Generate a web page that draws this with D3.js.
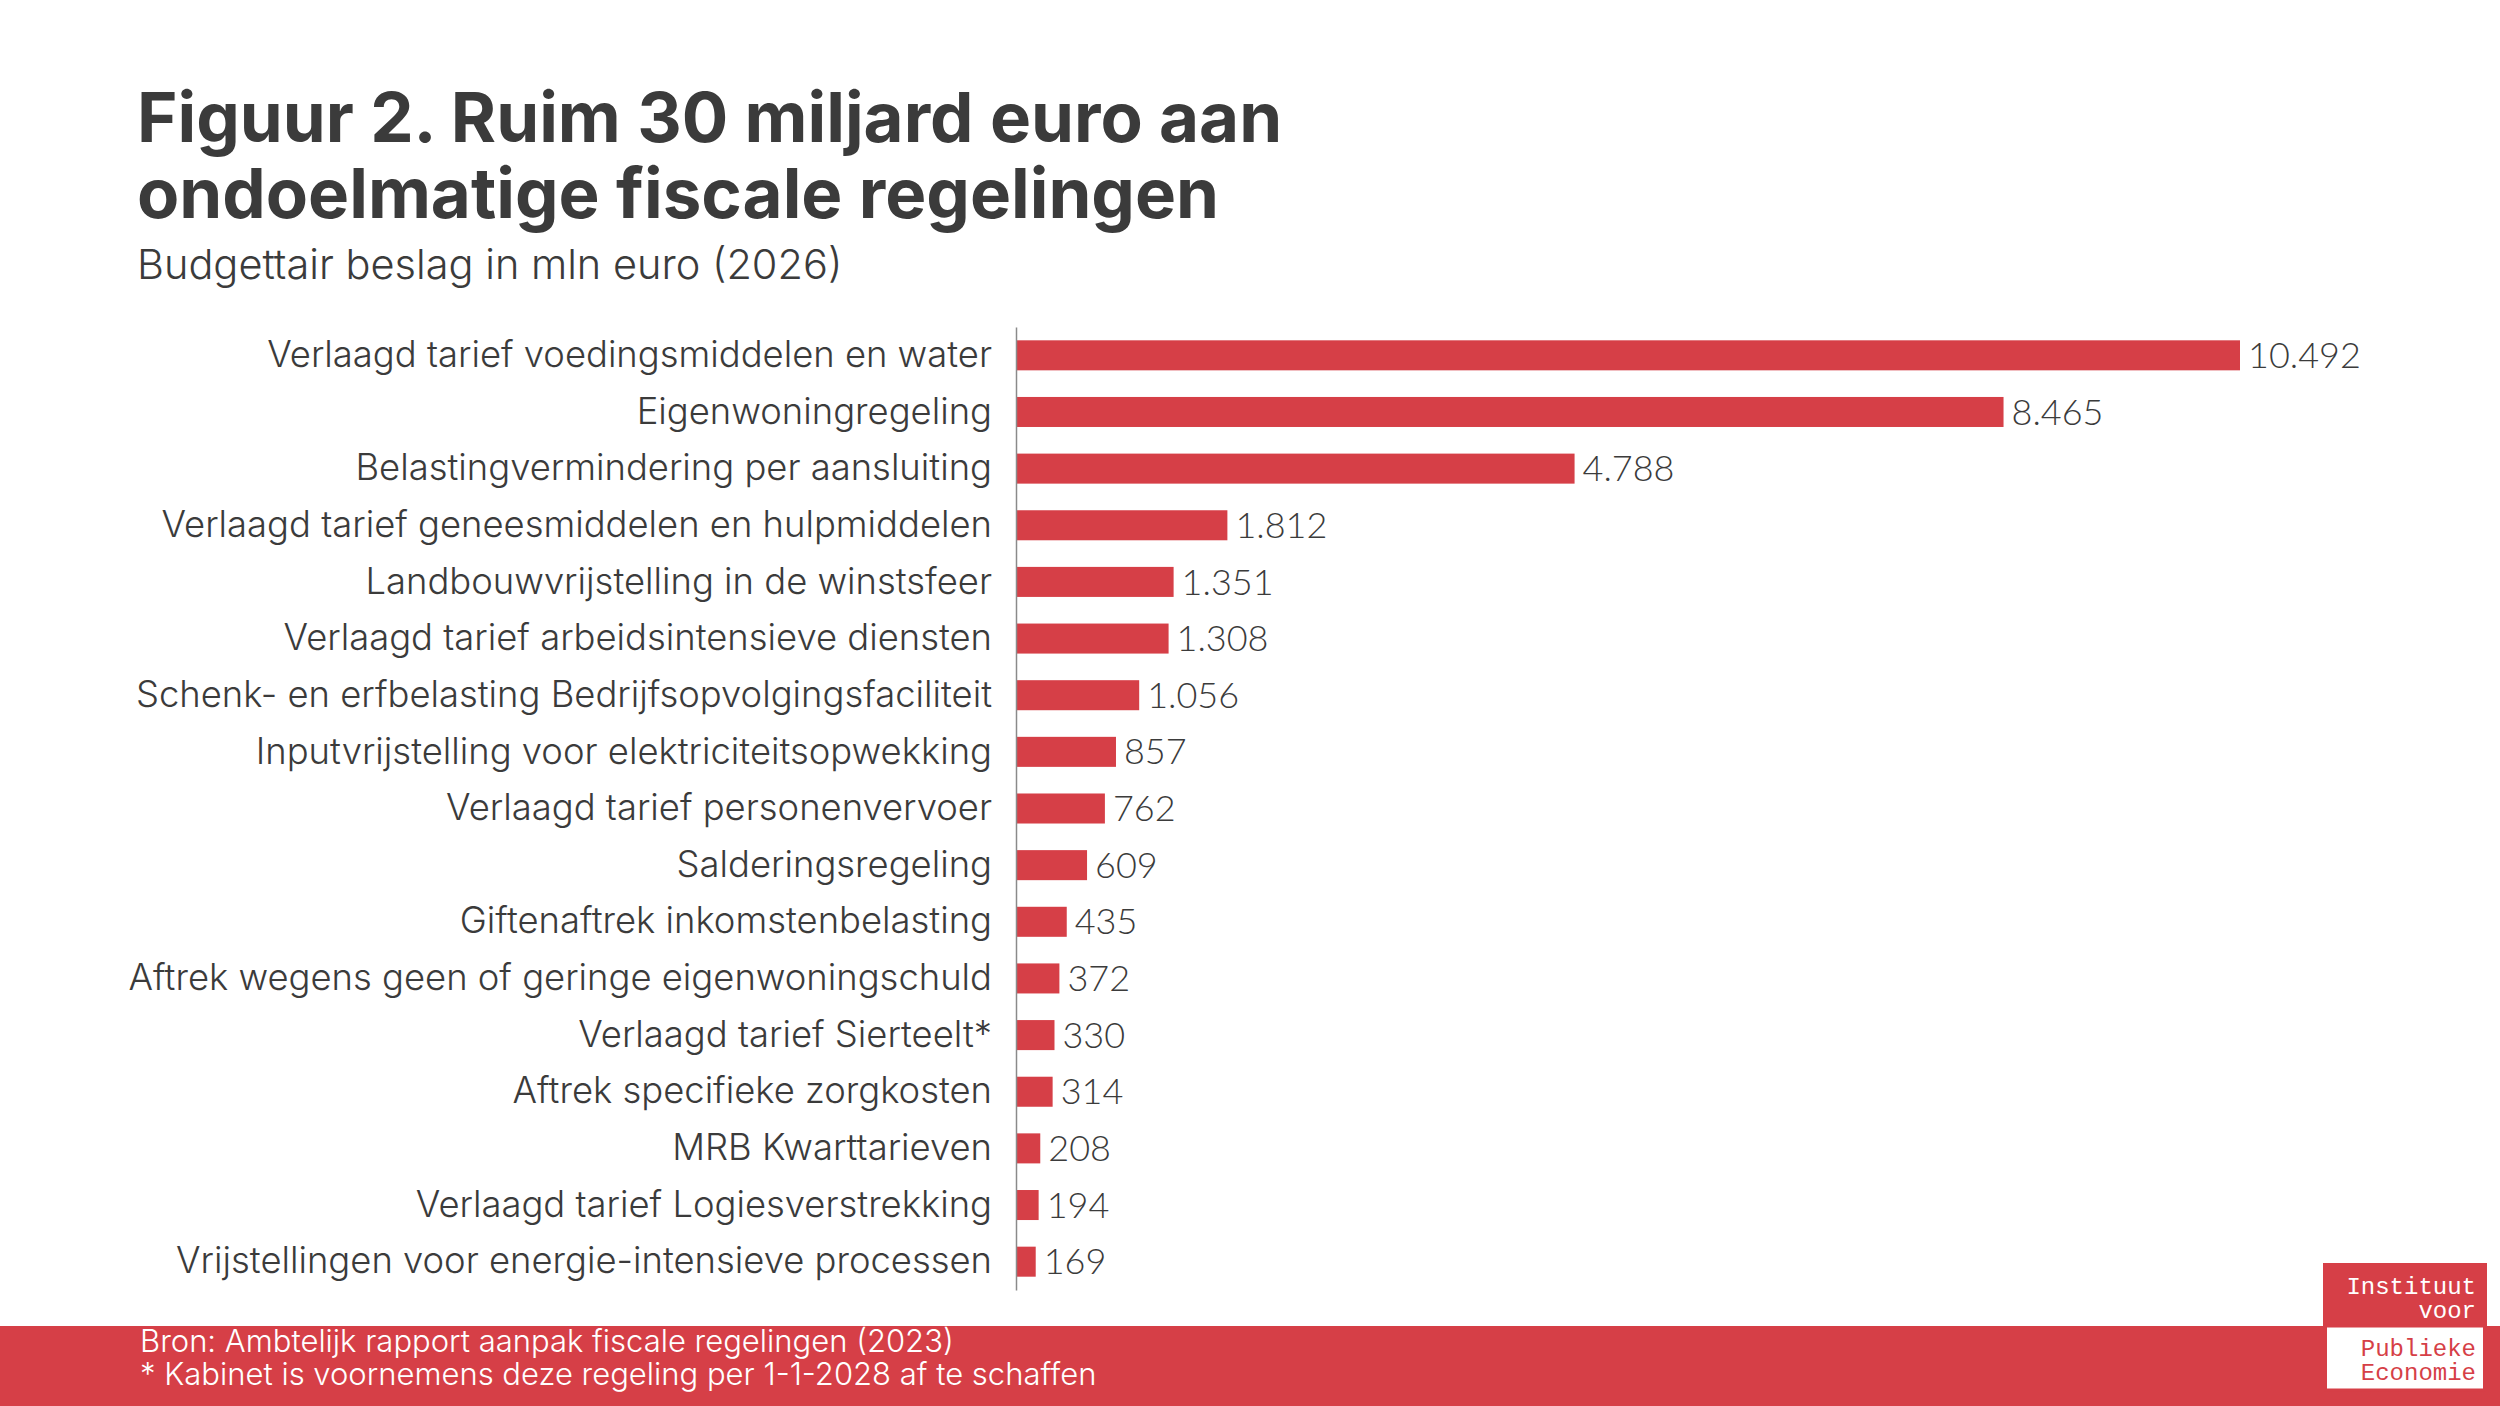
<!DOCTYPE html>
<html>
<head>
<meta charset="utf-8">
<script src="https://cdn.jsdelivr.net/npm/d3@7"></script>
<style>
  html, body { margin: 0; padding: 0; background: #fff; }
  svg { display: block; }
</style>
</head>
<body>
<svg id="chart" width="2500" height="1406"></svg>
<script>
// regelingen, van groot naar klein
var categories = [
  "Verlaagd tarief voedingsmiddelen en water",
  "Eigenwoningregeling",
  "Belastingvermindering per aansluiting",
  "Verlaagd tarief geneesmiddelen en hulpmiddelen",
  "Landbouwvrijstelling in de winstsfeer",
  "Verlaagd tarief arbeidsintensieve diensten",
  "Schenk- en erfbelasting Bedrijfsopvolgingsfaciliteit",
  "Inputvrijstelling voor elektriciteitsopwekking",
  "Verlaagd tarief personenvervoer",
  "Salderingsregeling",
  "Giftenaftrek inkomstenbelasting",
  "Aftrek wegens geen of geringe eigenwoningschuld",
  "Verlaagd tarief Sierteelt*",
  "Aftrek specifieke zorgkosten",
  "MRB Kwarttarieven",
  "Verlaagd tarief Logiesverstrekking",
  "Vrijstellingen voor energie-intensieve processen"
];
var values = [10492, 8465, 4788, 1812, 1351, 1308, 1056, 857, 762, 609, 435, 372, 330, 314, 208, 194, 169];

var titleLines = ["Figuur 2. Ruim 30 miljard euro aan", "ondoelmatige fiscale regelingen"];
var subtitle = "Budgettair beslag in mln euro (2026)";
var notes = ["Bron: Ambtelijk rapport aanpak fiscale regelingen (2023)",
             "* Kabinet is voornemens deze regeling per 1-1-2028 af te schaffen"];
var logoTop = ["Instituut", "voor"];
var logoBottom = ["Publieke", "Economie"];

var red = "#d63f47",
    ink = "#3b3b3b",
    light = "Inter, Lato, sans-serif";

var svg = d3.select("#chart");

var data = categories.map(function(c, i) { return { name: c, value: values[i] }; });

var x = d3.scaleLinear()
    .domain([0, d3.max(values)])
    .range([1016, 2240]);

var y = d3.scaleBand()
    .domain(categories)
    .range([327, 1290])
    .paddingInner(0.47)
    .paddingOuter(0.235);

// titel
svg.append("g").selectAll("text")
  .data(titleLines)
  .enter().append("text")
    .attr("x", 137)
    .attr("y", function(d, i) { return 142 + i * 76; })
    .attr("fill", ink)
    .attr("font-family", "Inter, 'Noto Sans', sans-serif")
    .attr("font-weight", 700)
    .attr("font-size", 69)
    .text(function(d) { return d; });

svg.append("text")
    .attr("x", 137)
    .attr("y", 279)
    .attr("fill", ink)
    .attr("font-family", light)
    .attr("font-weight", 300)
    .attr("font-size", 41.5)
    .text(subtitle);

// balken
svg.append("g").selectAll("rect")
  .data(data)
  .enter().append("rect")
    .attr("x", x(0))
    .attr("y", function(d) { return y(d.name); })
    .attr("width", function(d) { return x(d.value) - x(0); })
    .attr("height", y.bandwidth())
    .attr("fill", red);

// as met categorieen
var axis = svg.append("g")
    .attr("transform", "translate(" + x(0) + ",0)")
    .call(d3.axisLeft(y).tickSize(0).tickPadding(24));

axis.select(".domain")
    .attr("stroke", "#8a8a8a")
    .attr("stroke-width", 1.5);

axis.selectAll(".tick text")
    .attr("fill", ink)
    .attr("font-family", light)
    .attr("font-weight", 300)
    .attr("font-size", 36.4);

// waarden
var fmt = d3.formatLocale({ decimal: ",", thousands: ".", grouping: [3], currency: ["€", ""] }).format(",d");

svg.append("g").selectAll("text")
  .data(data)
  .enter().append("text")
    .attr("x", function(d) { return x(d.value) + 8; })
    .attr("y", function(d) { return y(d.name) + y.bandwidth() / 2; })
    .attr("dy", "0.35em")
    .attr("fill", ink)
    .attr("font-family", "Lato, sans-serif")
    .attr("font-weight", 300)
    .attr("font-size", 36)
    .text(function(d) { return fmt(d.value); });

// voetnoot
svg.append("rect")
    .attr("x", 0)
    .attr("y", 1326)
    .attr("width", 2500)
    .attr("height", 80)
    .attr("fill", red);

svg.append("g").selectAll("text")
  .data(notes)
  .enter().append("text")
    .attr("x", 140)
    .attr("y", function(d, i) { return 1352 + i * 33; })
    .attr("fill", "#fff")
    .attr("font-family", light)
    .attr("font-weight", 300)
    .attr("font-size", 31)
    .text(function(d) { return d; });

// logo
var logo = svg.append("g");
logo.append("rect")
    .attr("x", 2323).attr("y", 1263)
    .attr("width", 164).attr("height", 63)
    .attr("fill", red);
logo.append("rect")
    .attr("x", 2325.5).attr("y", 1326)
    .attr("width", 159).attr("height", 64)
    .attr("fill", "#fff")
    .attr("stroke", red)
    .attr("stroke-width", 3);

logo.selectAll(".top")
  .data(logoTop)
  .enter().append("text")
    .attr("x", 2476)
    .attr("y", function(d, i) { return 1294 + i * 24; })
    .attr("text-anchor", "end")
    .attr("fill", "#fff")
    .attr("font-family", "'Liberation Mono', 'DejaVu Sans Mono', monospace")
    .attr("font-size", 24)
    .text(function(d) { return d; });

logo.selectAll(".bottom")
  .data(logoBottom)
  .enter().append("text")
    .attr("x", 2476)
    .attr("y", function(d, i) { return 1356 + i * 24; })
    .attr("text-anchor", "end")
    .attr("fill", red)
    .attr("font-family", "'Liberation Mono', 'DejaVu Sans Mono', monospace")
    .attr("font-size", 24)
    .text(function(d) { return d; });
</script>
</body>
</html>
